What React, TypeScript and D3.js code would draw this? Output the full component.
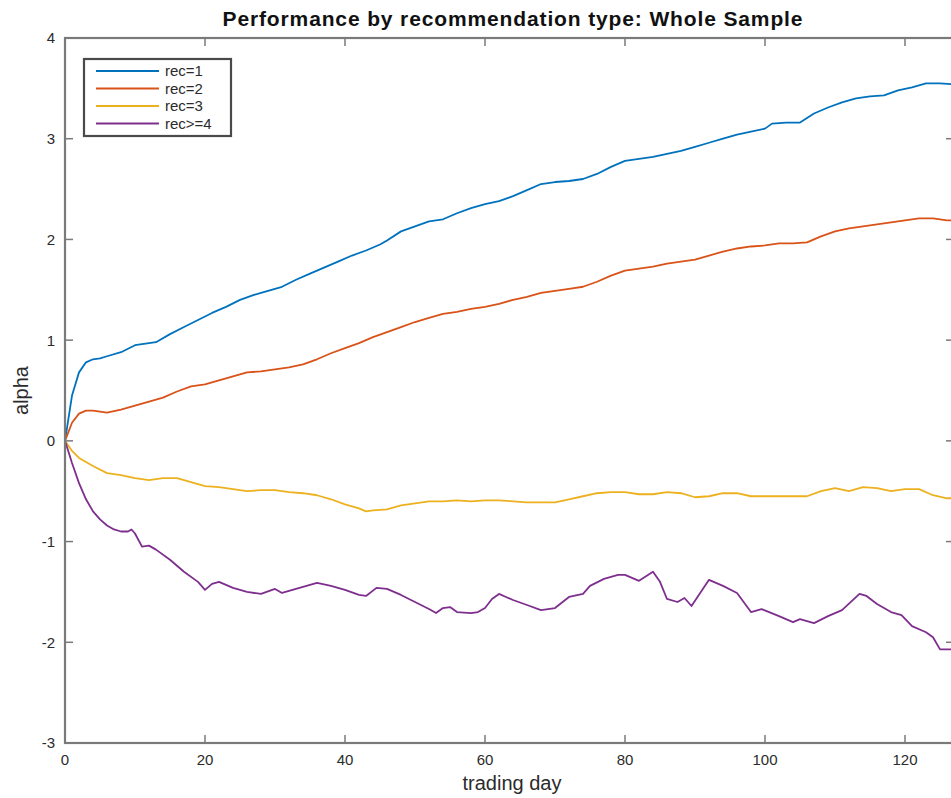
import React from 'react';
import * as d3 from 'd3';

// series: [trading day, alpha]
const rec1: [number, number][] = [
  [0, 0], [1, 0.45], [2, 0.68], [3, 0.78], [4, 0.81], [5, 0.82], [6, 0.84], [8, 0.88], [10, 0.95], [12, 0.97],
  [13, 0.98], [15, 1.06], [17, 1.13], [19, 1.2], [21, 1.27], [23, 1.33], [25, 1.4], [27, 1.45], [29, 1.49],
  [31, 1.53], [33, 1.6], [35, 1.66], [37, 1.72], [39, 1.78], [41, 1.84], [43, 1.89], [45, 1.95], [46, 1.99],
  [48, 2.08], [50, 2.13], [52, 2.18], [54, 2.2], [56, 2.26], [58, 2.31], [60, 2.35], [62, 2.38], [64, 2.43],
  [66, 2.49], [68, 2.55], [70, 2.57], [72, 2.58], [74, 2.6], [76, 2.65], [78, 2.72], [80, 2.78], [82, 2.8],
  [84, 2.82], [86, 2.85], [88, 2.88], [90, 2.92], [92, 2.96], [94, 3.0], [96, 3.04], [98, 3.07], [100, 3.1],
  [101, 3.15], [103, 3.16], [105, 3.16], [107, 3.25], [109, 3.31], [111, 3.36], [113, 3.4], [115, 3.42],
  [117, 3.43], [119, 3.48], [121, 3.51], [123, 3.55], [125, 3.55], [127, 3.54],
];

const rec2: [number, number][] = [
  [0, 0], [1, 0.18], [2, 0.27], [3, 0.3], [4, 0.3], [6, 0.28], [8, 0.31], [10, 0.35], [12, 0.39], [14, 0.43],
  [16, 0.49], [18, 0.54], [20, 0.56], [22, 0.6], [24, 0.64], [26, 0.68], [28, 0.69], [30, 0.71], [32, 0.73],
  [34, 0.76], [36, 0.81], [38, 0.87], [40, 0.92], [42, 0.97], [44, 1.03], [46, 1.08], [48, 1.13], [50, 1.18],
  [52, 1.22], [54, 1.26], [56, 1.28], [58, 1.31], [60, 1.33], [62, 1.36], [64, 1.4], [66, 1.43], [68, 1.47],
  [70, 1.49], [72, 1.51], [74, 1.53], [76, 1.58], [78, 1.64], [80, 1.69], [82, 1.71], [84, 1.73], [86, 1.76],
  [88, 1.78], [90, 1.8], [92, 1.84], [94, 1.88], [96, 1.91], [98, 1.93], [100, 1.94], [102, 1.96], [104, 1.96],
  [106, 1.97], [108, 2.03], [110, 2.08], [112, 2.11], [114, 2.13], [116, 2.15], [118, 2.17], [120, 2.19],
  [122, 2.21], [124, 2.21], [126, 2.19], [127, 2.19],
];

const rec3: [number, number][] = [
  [0, 0], [1, -0.1], [2, -0.17], [4, -0.25], [6, -0.32], [8, -0.34], [10, -0.37], [12, -0.39], [14, -0.37],
  [16, -0.37], [18, -0.41], [20, -0.45], [22, -0.46], [24, -0.48], [26, -0.5], [28, -0.49], [30, -0.49],
  [32, -0.51], [34, -0.52], [36, -0.54], [38, -0.58], [40, -0.63], [42, -0.67], [43, -0.7], [44, -0.69],
  [46, -0.68], [48, -0.64], [50, -0.62], [52, -0.6], [54, -0.6], [56, -0.59], [58, -0.6], [60, -0.59],
  [62, -0.59], [64, -0.6], [66, -0.61], [68, -0.61], [70, -0.61], [72, -0.58], [74, -0.55], [76, -0.52],
  [78, -0.51], [80, -0.51], [82, -0.53], [84, -0.53], [86, -0.51], [88, -0.52], [90, -0.56], [92, -0.55],
  [94, -0.52], [96, -0.52], [98, -0.55], [100, -0.55], [102, -0.55], [104, -0.55], [106, -0.55], [108, -0.5],
  [110, -0.47], [112, -0.5], [114, -0.46], [116, -0.47], [118, -0.5], [120, -0.48], [122, -0.48], [124, -0.54],
  [126, -0.57], [127, -0.57],
];

const rec4: [number, number][] = [
  [0, 0], [1, -0.22], [2, -0.42], [3, -0.58], [4, -0.7], [5, -0.78], [6, -0.84], [7, -0.88], [8, -0.9],
  [9, -0.9], [9.5, -0.88], [10, -0.92], [11, -1.05], [12, -1.04], [13, -1.08], [15, -1.18], [17, -1.3],
  [19, -1.4], [20, -1.48], [21, -1.42], [22, -1.4], [24, -1.46], [26, -1.5], [28, -1.52], [30, -1.47],
  [31, -1.51], [32, -1.49], [34, -1.45], [36, -1.41], [38, -1.44], [40, -1.48], [42, -1.53], [43, -1.54],
  [44.5, -1.46], [46, -1.47], [48, -1.53], [50, -1.6], [52, -1.67], [53, -1.71], [54, -1.66], [55, -1.65],
  [56, -1.7], [58, -1.71], [59, -1.7], [60, -1.66], [61, -1.57], [62, -1.52], [63, -1.55], [64, -1.58],
  [66, -1.63], [68, -1.68], [70, -1.66], [72, -1.55], [74, -1.52], [75, -1.44], [77, -1.37], [79, -1.33],
  [80, -1.33], [82, -1.39], [84, -1.3], [85, -1.4], [86, -1.57], [87.5, -1.6], [88.5, -1.56], [89.5, -1.64],
  [92, -1.38], [94, -1.44], [96, -1.51], [98, -1.7], [99.5, -1.67], [102, -1.74], [104, -1.8], [105, -1.77],
  [107, -1.81], [109, -1.74], [111, -1.68], [113.5, -1.52], [114.5, -1.54], [116, -1.62], [118, -1.7],
  [119.5, -1.73], [121, -1.84], [123, -1.9], [124, -1.95], [125, -2.07], [127, -2.07],
];

const seriesNames = ['rec=1', 'rec=2', 'rec=3', 'rec>=4'];
const seriesColors = ['#0072BD', '#D95319', '#EDB120', '#7E2F8E'];
const xTicks = [0, 20, 40, 60, 80, 100, 120];
const yTicks = [-3, -2, -1, 0, 1, 2, 3, 4];

const W = 951;
const H = 798;
const left = 65, top = 38, right = 954, bottom = 743;
const font = '"Liberation Sans", Arial, Helvetica, sans-serif';
const axisColor = '#7a7a7a';

export default function App() {
  const x = d3.scaleLinear().domain([0, 127]).range([left, right]);
  const y = d3.scaleLinear().domain([-3, 4]).range([bottom, top]);
  const line = d3.line<[number, number]>().x(d => x(d[0])).y(d => y(d[1]));
  const all = [rec1, rec2, rec3, rec4];

  return (
    <svg width={W} height={H} style={{ position: 'absolute', left: 0, top: 0, background: '#fff' }}
      fontFamily={font}>
      <defs>
        <clipPath id="plot">
          <rect x={left} y={top} width={right - left} height={bottom - top} />
        </clipPath>
      </defs>
      <rect x={0} y={0} width={W} height={H} fill="#fff" />

      <g clipPath="url(#plot)">
        {all.map((s, i) => (
          <path key={i} d={line(s) || ''} fill="none" stroke={seriesColors[i]} strokeWidth={1.8}
            strokeLinejoin="round" />
        ))}
      </g>

      {/* box */}
      <rect x={left} y={top} width={right - left} height={bottom - top} fill="none" stroke={axisColor}
        strokeWidth={2.2} />

      {/* x ticks bottom and top */}
      {xTicks.map(t => (
        <g key={'x' + t}>
          <line x1={x(t)} x2={x(t)} y1={bottom} y2={bottom - 8} stroke={axisColor} strokeWidth={1.5} />
          <line x1={x(t)} x2={x(t)} y1={top} y2={top + 8} stroke={axisColor} strokeWidth={1.5} />
          <text x={x(t)} y={765} textAnchor="middle" fontSize={15} fill="#2b2b2b">{t}</text>
        </g>
      ))}

      {/* y ticks left and right */}
      {yTicks.map(t => (
        <g key={'y' + t}>
          <line x1={left} x2={left + 8} y1={y(t)} y2={y(t)} stroke={axisColor} strokeWidth={1.5} />
          <line x1={right} x2={right - 8} y1={y(t)} y2={y(t)} stroke={axisColor} strokeWidth={1.5} />
          <text x={55} y={y(t)} dy="0.36em" textAnchor="end" fontSize={15} fill="#2b2b2b">{t}</text>
        </g>
      ))}

      <text x={(left + right) / 2 + 3} y={26} textAnchor="middle" fontSize={21} fontWeight="bold"
        fill="#111" textLength={580} lengthAdjust="spacing">
        Performance by recommendation type: Whole Sample
      </text>
      <text x={512} y={790} textAnchor="middle" fontSize={20} fill="#2b2b2b">trading day</text>
      <text transform={`translate(28, ${(top + bottom) / 2}) rotate(-90)`} textAnchor="middle" fontSize={20}
        fill="#2b2b2b">alpha</text>

      {/* legend */}
      <g>
        <rect x={84} y={59} width={147} height={77} fill="#fff" stroke="#4a4a4a" strokeWidth={2.2} />
        {seriesNames.map((n, i) => {
          const ly = 71 + i * 17.5;
          return (
            <g key={n}>
              <line x1={96} x2={159} y1={ly} y2={ly} stroke={seriesColors[i]} strokeWidth={2} />
              <text x={165} y={ly} dy="0.36em" fontSize={15} fill="#2b2b2b">{n}</text>
            </g>
          );
        })}
      </g>
    </svg>
  );
}
